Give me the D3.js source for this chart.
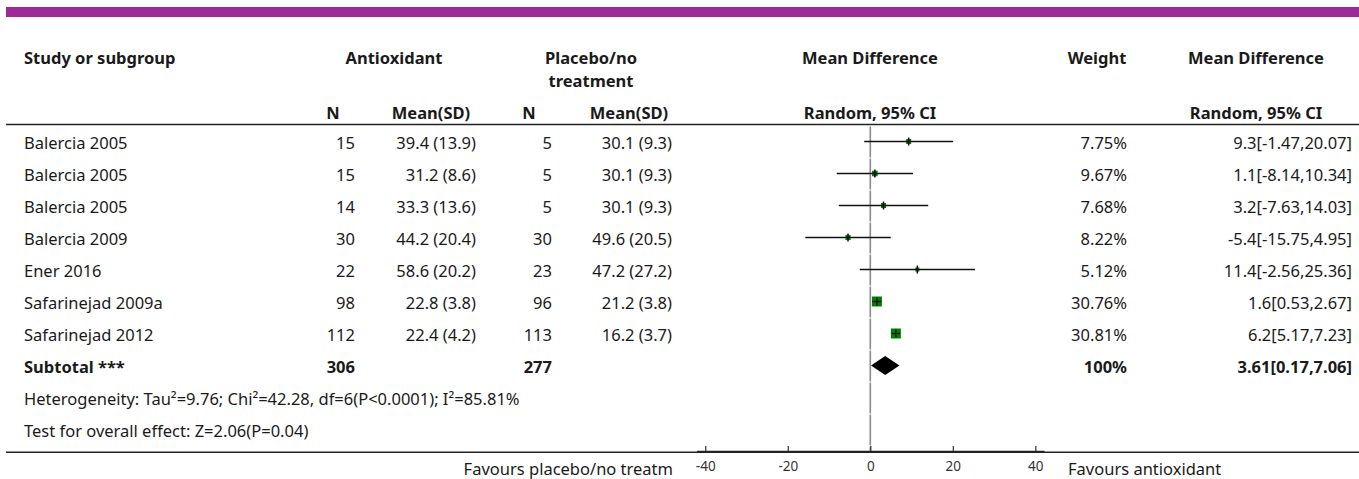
<!DOCTYPE html>
<html>
<head>
<meta charset="utf-8">
<script src="https://cdn.jsdelivr.net/npm/d3@7"></script>
<style>
  html, body { margin: 0; padding: 0; background: #fff; }
  svg { display: block; }
  text { font-family: "Noto Sans", "Lato", sans-serif; fill: #1a1a1a; }
</style>
</head>
<body>
<svg id="chart" width="1359" height="479"></svg>
<script>
// ---------- data ----------
const studies   = ["Balercia 2005","Balercia 2005","Balercia 2005","Balercia 2009","Ener 2016","Safarinejad 2009a","Safarinejad 2012"];
const nAnti     = [15, 15, 14, 30, 22, 98, 112];
const meanAnti  = [39.4, 31.2, 33.3, 44.2, 58.6, 22.8, 22.4];
const sdAnti    = [13.9, 8.6, 13.6, 20.4, 20.2, 3.8, 4.2];
const nPlac     = [5, 5, 5, 30, 23, 96, 113];
const meanPlac  = [30.1, 30.1, 30.1, 49.6, 47.2, 21.2, 16.2];
const sdPlac    = [9.3, 9.3, 9.3, 20.5, 27.2, 3.8, 3.7];
const weights   = [7.75, 9.67, 7.68, 8.22, 5.12, 30.76, 30.81];
const md        = [9.3, 1.1, 3.2, -5.4, 11.4, 1.6, 6.2];
const ciLow     = [-1.47, -8.14, -7.63, -15.75, -2.56, 0.53, 5.17];
const ciHigh    = [20.07, 10.34, 14.03, 4.95, 25.36, 2.67, 7.23];
const subtotalLabel = "Subtotal ***";
const subtotalN = [306, 277];
const subtotalWeight = 100;
const subtotalMD = [3.61, 0.17, 7.06];
const heterogeneity = "Heterogeneity: Tau\u00B2=9.76; Chi\u00B2=42.28, df=6(P<0.0001); I\u00B2=85.81%";
const overallTest = "Test for overall effect: Z=2.06(P=0.04)";
const xTicks    = [-40, -20, 0, 20, 40];
const favLeft   = "Favours placebo/no treatm";
const favRight  = "Favours antioxidant";

// ---------- layout ----------
const W = 1359;
const svg = d3.select("#chart");
const rowTop0 = 125.5, rowH = 32;
const rowC = i => rowTop0 + rowH * i + 16;
const axisY = 451;
const fs = 16.5;

const x = d3.scaleLinear().domain([-42.1, 42.1]).range([696.6, 1044]);
const size = d3.scaleSqrt().domain([0, 30.81]).range([0, 10]);

// purple band
svg.append("rect").attr("x", 6).attr("y", 7).attr("width", W - 6).attr("height", 10).attr("fill", "#9c2a97");

// header
const hdr = svg.append("g").attr("font-weight", "bold").attr("font-size", fs);
function ht(txt, xx, yy, anchor) {
  hdr.append("text").attr("x", xx).attr("y", yy).attr("text-anchor", anchor).text(txt);
}
ht("Study or subgroup", 24, 64, "start");
ht("Antioxidant", 394, 64, "middle");
ht("Placebo/no", 591, 64, "middle");
ht("treatment", 591, 87, "middle");
ht("Mean Difference", 870, 64, "middle");
ht("Weight", 1097, 64, "middle");
ht("Mean Difference", 1256, 64, "middle");
ht("N", 333, 119, "middle");
ht("Mean(SD)", 431, 119, "middle");
ht("N", 529, 119, "middle");
ht("Mean(SD)", 629, 119, "middle");
ht("Random, 95% CI", 870, 119, "middle");
ht("Random, 95% CI", 1256, 119, "middle");

// lines
svg.append("line").attr("x1", 6).attr("x2", W).attr("y1", 124.5).attr("y2", 124.5).attr("stroke", "#222").attr("stroke-width", 1.5);
svg.append("line").attr("x1", 6).attr("x2", W).attr("y1", 452.2).attr("y2", 452.2).attr("stroke", "#222").attr("stroke-width", 1.5);

// zero line segments per row
const nRows = 10;
for (let i = 0; i < nRows; i++) {
  svg.append("line")
    .attr("x1", x(0)).attr("x2", x(0))
    .attr("y1", rowTop0 + rowH * i + 1).attr("y2", rowTop0 + rowH * (i + 1))
    .attr("stroke", "#8a8a8a").attr("stroke-width", 1.6);
}
svg.append("line").attr("x1", x(0)).attr("x2", x(0))
  .attr("y1", rowTop0 + rowH * nRows + 1).attr("y2", axisY)
  .attr("stroke", "#8a8a8a").attr("stroke-width", 1.6);

// study rows
const body = svg.append("g").attr("font-size", fs);
const ty = i => rowC(i) + 7;
studies.forEach((s, i) => {
  const y = ty(i);
  body.append("text").attr("x", 24).attr("y", y).text(s);
  body.append("text").attr("x", 355).attr("y", y).attr("text-anchor", "end").text(nAnti[i]);
  body.append("text").attr("x", 476).attr("y", y).attr("text-anchor", "end").text(`${meanAnti[i]} (${sdAnti[i]})`);
  body.append("text").attr("x", 552).attr("y", y).attr("text-anchor", "end").text(nPlac[i]);
  body.append("text").attr("x", 672).attr("y", y).attr("text-anchor", "end").text(`${meanPlac[i]} (${sdPlac[i]})`);
  body.append("text").attr("x", 1127).attr("y", y).attr("text-anchor", "end").text(`${weights[i]}%`);
  body.append("text").attr("x", 1352).attr("y", y).attr("text-anchor", "end").text(`${md[i]}[${ciLow[i]},${ciHigh[i]}]`);
});

// forest marks
const marks = svg.append("g");
studies.forEach((s, i) => {
  const cy = rowC(i);
  const sz = size(weights[i]);
  marks.append("rect")
    .attr("x", x(md[i]) - sz / 2).attr("y", cy - sz / 2)
    .attr("width", sz).attr("height", sz)
    .attr("fill", "#008000");
  marks.append("line")
    .attr("x1", x(ciLow[i])).attr("x2", x(ciHigh[i]))
    .attr("y1", cy).attr("y2", cy)
    .attr("stroke", "#111").attr("stroke-width", 1.4);
  marks.append("line")
    .attr("x1", x(md[i])).attr("x2", x(md[i]))
    .attr("y1", cy - 4).attr("y2", cy + 4)
    .attr("stroke", "#111").attr("stroke-width", 1.5);
});

// subtotal row
const sy = rowC(7);
const sub = svg.append("g").attr("font-size", fs).attr("font-weight", "bold");
sub.append("text").attr("x", 24).attr("y", ty(7)).text(subtotalLabel);
sub.append("text").attr("x", 355).attr("y", ty(7)).attr("text-anchor", "end").text(subtotalN[0]);
sub.append("text").attr("x", 552).attr("y", ty(7)).attr("text-anchor", "end").text(subtotalN[1]);
sub.append("text").attr("x", 1127).attr("y", ty(7)).attr("text-anchor", "end").text(`${subtotalWeight}%`);
sub.append("text").attr("x", 1352).attr("y", ty(7)).attr("text-anchor", "end").text(`${subtotalMD[0]}[${subtotalMD[1]},${subtotalMD[2]}]`);
const dh = 9.5;
svg.append("path")
  .attr("d", `M${x(subtotalMD[1])},${sy} L${x(subtotalMD[0])},${sy - dh} L${x(subtotalMD[2])},${sy} L${x(subtotalMD[0])},${sy + dh} Z`)
  .attr("fill", "#000");

// heterogeneity and test
body.append("text").attr("x", 24).attr("y", ty(8)).text(heterogeneity);
body.append("text").attr("x", 24).attr("y", ty(9)).text(overallTest);

// axis
const axis = d3.axisBottom(x).tickValues(xTicks).tickFormat(d => String(d))
  .tickSizeInner(-5).tickSizeOuter(0).tickPadding(10);
const ag = svg.append("g").attr("transform", `translate(0,${axisY})`).call(axis);
ag.select(".domain").attr("stroke", "#222").attr("stroke-width", 1.5);
ag.selectAll(".tick line").attr("stroke", "#333").attr("stroke-width", 1.2);
ag.selectAll(".tick text").attr("font-size", 13.5).attr("font-family", "'Noto Sans', sans-serif").style("fill", "#333");

// favours labels
svg.append("text").attr("x", 673).attr("y", 475).attr("text-anchor", "end").attr("font-size", fs).text(favLeft);
svg.append("text").attr("x", 1068).attr("y", 475).attr("text-anchor", "start").attr("font-size", fs).text(favRight);
</script>
</body>
</html>
